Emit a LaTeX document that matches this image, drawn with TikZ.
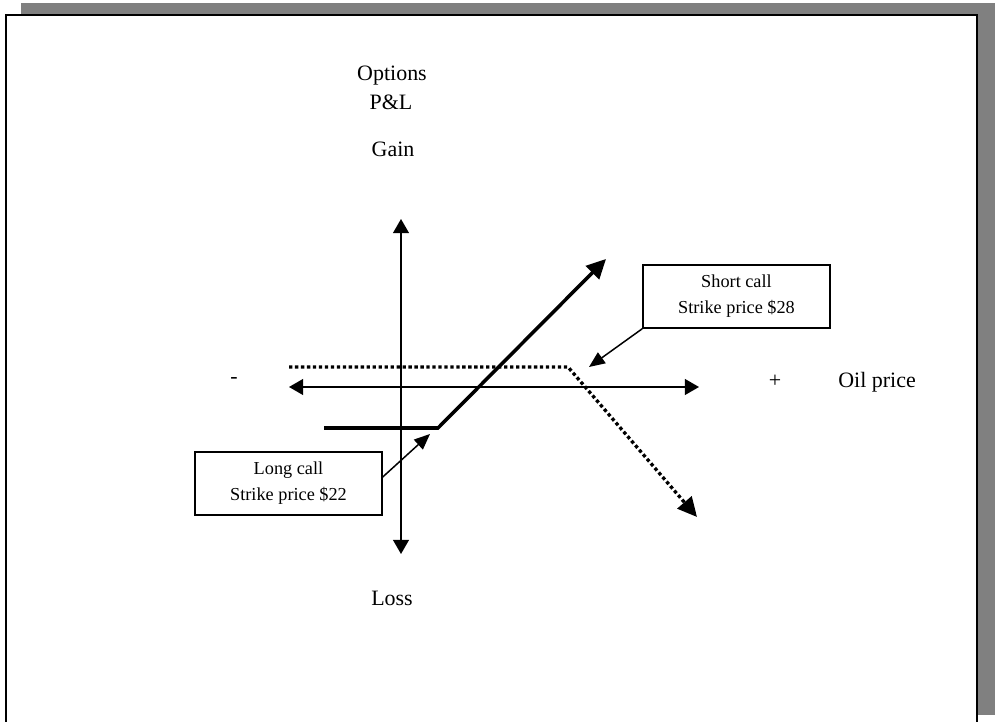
\documentclass[tikz,border=0pt]{standalone}
\usepackage{fontspec}
\setmainfont{Liberation Serif}
\usetikzlibrary{arrows.meta}

\begin{document}
\begin{tikzpicture}[x=0.02cm, y=-0.02cm,
    axis/.style={line width=0.85pt, {Triangle[length=8pt, width=9pt]}-{Triangle[length=8pt, width=9pt]}},
    longpay/.style={line width=2pt, -{Triangle[length=11pt, width=10.5pt]}},
    shortpay/.style={line width=1.9pt, dash pattern=on 1.9pt off 1.5pt, -{Triangle[length=11pt, width=10.5pt]}},
    callout/.style={line width=0.85pt, -{Triangle[length=9pt, width=7.5pt]}},
    callbox/.style={draw, line width=0.85pt, inner sep=0,
      minimum width=3.74cm, minimum height=1.26cm, align=center,
      font=\fontsize{10.4}{14.8}\selectfont},
    lbl/.style={inner sep=0, font=\fontsize{12.5}{15}\selectfont}]
  \useasboundingbox (0,0) rectangle (995,722);
  \clip (0,0) rectangle (995,722);

  % frame
  \fill[gray] (21,3) rectangle (995,715);
  \draw[line width=1.1pt, fill=white] (6,15) rectangle (977,760);

  % labels
  \node[lbl, anchor=base] (options) at (392,81) {Options};
  \node[lbl, anchor=base] (pl) at (391,110) {P\&L};
  \node[lbl, anchor=base] (gain) at (393,157) {Gain};
  \node[lbl, anchor=base] (loss) at (392,606) {Loss};
  \node[lbl] (minus) at (234,381) {-};
  \node[lbl, anchor=base] (plus) at (775,388) {+};
  \node[lbl, anchor=base west] (oilprice) at (838,388) {Oil price};

  % axes
  \coordinate (ytop) at (401,219);
  \coordinate (ybot) at (401,554);
  \coordinate (xleft) at (289,387);
  \coordinate (xright) at (699,387);
  \draw[axis] (ybot) -- (ytop);
  \draw[axis] (xleft) -- (xright);

  % long call
  \coordinate (lcstart) at (324,428);
  \coordinate (lckink) at (438,428);
  \coordinate (lcend) at (606,259);
  \draw[longpay] (lcstart) -- (lckink) -- (lcend);

  % short call
  \coordinate (scstart) at (289,367);
  \coordinate (sckink) at (568,367);
  \coordinate (scend) at (697,517);
  \draw[shortpay] (scstart) -- (sckink) -- (scend);

  % boxes
  \node[callbox] (longbox) at (288.5,483.5) {Long call\\Strike price \$22};
  \node[callbox] (shortbox) at (736.5,296.5) {Short call\\Strike price \$28};

  \coordinate (lctip) at (430,434);
  \coordinate (sctip) at (589,367);
  \draw[callout] ([yshift=0.13cm]longbox.east) -- (lctip);
  \draw[callout] (shortbox.south west) -- (sctip);
\end{tikzpicture}
\end{document}
